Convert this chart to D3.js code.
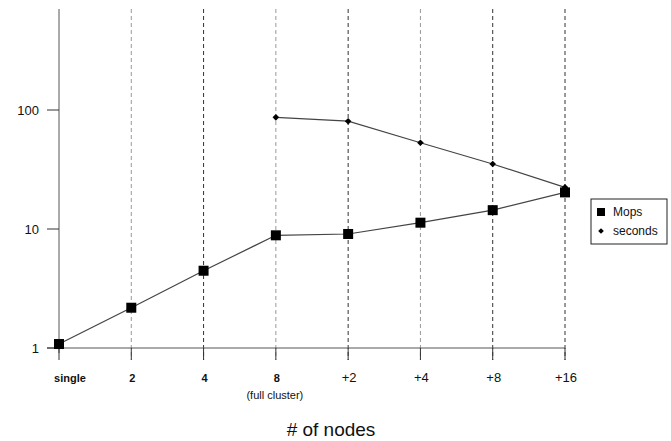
<!DOCTYPE html>
<html>
<head>
<meta charset="utf-8">
<script src="https://cdn.jsdelivr.net/npm/d3@7"></script>
<style>
  body { margin: 0; background: #fff; }
  text { font-family: "Liberation Sans", Arial, sans-serif; fill: #111; }
</style>
</head>
<body>
<div id="chart"></div>
<script>
var categories = ["single", "2", "4", "8", "+2", "+4", "+8", "+16"],
    mops = [1.08, 2.18, 4.46, 8.85, 9.08, 11.3, 14.4, 20.3],
    seconds = [null, null, null, 86.8, 80.5, 53.1, 35.2, 22.4],
    yTicks = [1, 10, 100],
    gridDark = [false, false, true, false, true, false, true, true];

var W = 671, H = 441;

var x = d3.scalePoint().domain(categories).range([59, 565]),
    y = d3.scaleLog().domain([1, 100]).range([348, 110]);

var svg = d3.select("#chart").append("svg")
    .attr("width", W)
    .attr("height", H);

// vertical dashed grid lines
svg.selectAll(".grid")
    .data(categories.slice(1))
    .enter().append("line")
    .attr("x1", function(d) { return x(d); })
    .attr("x2", function(d) { return x(d); })
    .attr("y1", 9)
    .attr("y2", 360)
    .attr("stroke", function(d, i) { return gridDark[i + 1] ? "#333" : "#999"; })
    .attr("stroke-width", 1)
    .attr("stroke-dasharray", "4,3");

// axes lines
svg.append("line")
    .attr("x1", 59).attr("x2", 59).attr("y1", 9).attr("y2", 353)
    .attr("stroke", "#555");
svg.append("line")
    .attr("x1", 47).attr("x2", 565).attr("y1", y(1)).attr("y2", y(1))
    .attr("stroke", "#555");

// x ticks
svg.selectAll(".xtick")
    .data(categories)
    .enter().append("line")
    .attr("x1", function(d) { return x(d); })
    .attr("x2", function(d) { return x(d); })
    .attr("y1", y(1)).attr("y2", 360)
    .attr("stroke", "#333");

// y ticks
svg.selectAll(".ytick")
    .data(yTicks)
    .enter().append("line")
    .attr("x1", 47).attr("x2", 59)
    .attr("y1", function(d) { return y(d); })
    .attr("y2", function(d) { return y(d); })
    .attr("stroke", "#333");

svg.selectAll(".ylab")
    .data(yTicks)
    .enter().append("text")
    .attr("x", 39)
    .attr("y", function(d) { return y(d); })
    .attr("dy", "0.35em")
    .attr("text-anchor", "end")
    .style("font-size", "13px")
    .text(function(d) { return d; });

svg.selectAll(".xlab")
    .data(categories)
    .enter().append("text")
    .attr("x", function(d, i) { return i == 0 ? x(d) + 11 : x(d) + 1; })
    .attr("y", 382)
    .attr("text-anchor", "middle")
    .style("font-size", function(d, i) { return i < 4 ? "11px" : "13px"; })
    .style("font-weight", function(d, i) { return i < 4 ? "bold" : "normal"; })
    .text(function(d) { return d; });

svg.append("text")
    .attr("x", x("8") - 1)
    .attr("y", 399)
    .attr("text-anchor", "middle")
    .style("font-size", "11px")
    .text("(full cluster)");

svg.append("text")
    .attr("x", 331)
    .attr("y", 436)
    .attr("text-anchor", "middle")
    .style("font-size", "19px")
    .text("# of nodes");

// series lines
var line = d3.line()
    .defined(function(d) { return d[1] != null; })
    .x(function(d) { return x(d[0]); })
    .y(function(d) { return y(d[1]); });

var mopsData = categories.map(function(c, i) { return [c, mops[i]]; }),
    secData = categories.map(function(c, i) { return [c, seconds[i]]; });

svg.append("path")
    .attr("d", line(mopsData))
    .attr("fill", "none")
    .attr("stroke", "#444")
    .attr("stroke-width", 1.2);

svg.append("path")
    .attr("d", line(secData))
    .attr("fill", "none")
    .attr("stroke", "#444")
    .attr("stroke-width", 1.2);

svg.selectAll(".sq")
    .data(mopsData)
    .enter().append("rect")
    .attr("x", function(d) { return x(d[0]) - 5; })
    .attr("y", function(d) { return y(d[1]) - 5; })
    .attr("width", 10).attr("height", 10)
    .attr("fill", "#000");

// small square diamonds (rotated squares)
var diamond = d3.symbol().type(d3.symbolSquare).size(22);
svg.selectAll(".dm")
    .data(secData.filter(function(d) { return d[1] != null; }))
    .enter().append("path")
    .attr("d", diamond)
    .attr("transform", function(d) { return "translate(" + x(d[0]) + "," + y(d[1]) + ") rotate(45)"; })
    .attr("fill", "#000");

// legend
var lg = svg.append("g").attr("transform", "translate(591,199)");
lg.append("rect")
    .attr("width", 76).attr("height", 45)
    .attr("fill", "#fff").attr("stroke", "#222");
lg.append("rect")
    .attr("x", 6).attr("y", 9).attr("width", 8).attr("height", 8)
    .attr("fill", "#000");
lg.append("path")
    .attr("d", d3.symbol().type(d3.symbolSquare).size(16))
    .attr("transform", "translate(10,32) rotate(45)")
    .attr("fill", "#000");
lg.append("text").attr("x", 22).attr("y", 13).attr("dy", "0.35em")
    .style("font-size", "12px").text("Mops");
lg.append("text").attr("x", 22).attr("y", 32).attr("dy", "0.35em")
    .style("font-size", "12px").text("seconds");
</script>
</body>
</html>
